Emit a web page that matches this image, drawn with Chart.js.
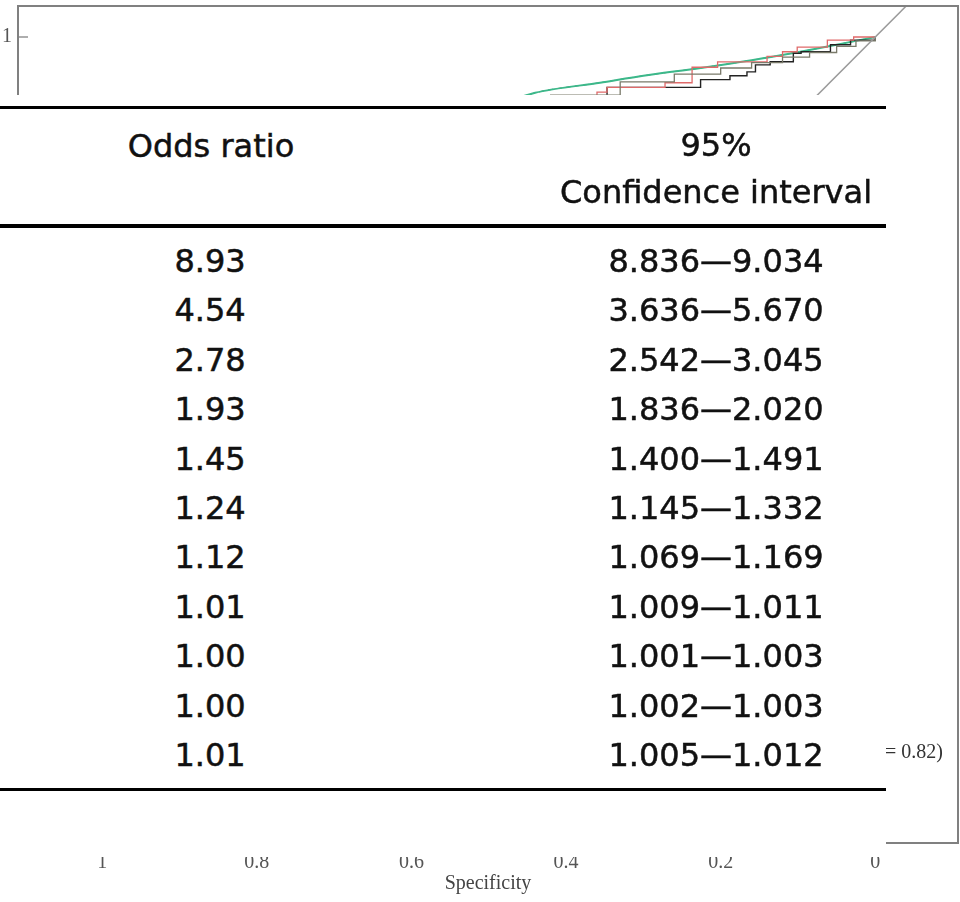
<!DOCTYPE html>
<html>
<head>
<meta charset="utf-8">
<script src="https://cdn.jsdelivr.net/npm/chart.js@4.4.1/dist/chart.umd.min.js"></script>
<style>
  html, body { margin:0; padding:0; background:#fff; }
  #wrap { position:relative; width:960px; height:902px; overflow:hidden; }
  #roc { position:absolute; left:0; top:0; }
  #tbl { position:absolute; left:0; top:95px; width:886px; height:762px; background:#fff; }
  .rule { position:absolute; left:0; width:886px; background:#000; }
  .cell { position:absolute; font-family:'DejaVu Sans', sans-serif; font-size:32px; line-height:49px; height:49px; color:#111; text-align:center; white-space:nowrap; -webkit-text-stroke:0.5px #111; }
</style>
</head>
<body>
<div id="wrap">
  <canvas id="roc" width="960" height="902"></canvas>
  <div id="tbl"></div>
</div>
<script>
// axis ticks
const xTicks = [1, 0.8, 0.6, 0.4, 0.2, 0];
const yTicks = [0, 0.2, 0.4, 0.6, 0.8, 1];

// reference diagonal (abline)
const diagSpec = [1.2, -0.2];
const diagSens = [-0.2, 1.2];

// ROC curves (specificity, sensitivity)
const redSpec = [1, 0.98, 0.92, 0.85, 0.76, 0.66, 0.56, 0.47, 0.40, 0.36, 0.347, 0.272, 0.237, 0.204, 0.14, 0.12, 0.101, 0.062, 0.028, 0];
const redSens = [0, 0.22, 0.42, 0.58, 0.70, 0.80, 0.87, 0.905, 0.92, 0.929, 0.935, 0.941, 0.961, 0.968, 0.975, 0.981, 0.987, 0.996, 1.0, 1.0];

const blackSpec = [1, 0.97, 0.9, 0.82, 0.72, 0.62, 0.52, 0.44, 0.38, 0.347, 0.226, 0.188, 0.166, 0.155, 0.136, 0.106, 0.096, 0.058, 0.032, 0];
const blackSens = [0, 0.18, 0.36, 0.52, 0.66, 0.77, 0.85, 0.89, 0.915, 0.935, 0.945, 0.950, 0.955, 0.964, 0.968, 0.979, 0.981, 0.990, 0.996, 1.0];

const graySpec = [1, 0.96, 0.9, 0.8, 0.7, 0.6, 0.5, 0.42, 0.33, 0.26, 0.2, 0.16, 0.12, 0.085, 0.05, 0.025, 0];
const graySens = [0, 0.3, 0.47, 0.63, 0.75, 0.84, 0.9, 0.925, 0.942, 0.952, 0.96, 0.967, 0.974, 0.98, 0.988, 0.995, 1];

const greenSpec = [1, 0.95, 0.9, 0.8, 0.7, 0.6, 0.5, 0.44, 0.356, 0.3, 0.226, 0.16, 0.097, 0.05, 0];
const greenSens = [0, 0.36, 0.5, 0.66, 0.77, 0.85, 0.905, 0.928, 0.941, 0.95, 0.96, 0.97, 0.981, 0.99, 1];

const legendText = '(AUC = 0.82)';

// table over the plot
const headers = ['Odds ratio', '95%', 'Confidence interval'];
const oddsRatio = ['8.93', '4.54', '2.78', '1.93', '1.45', '1.24', '1.12', '1.01', '1.00', '1.00', '1.01'];
const ciLow  = ['8.836', '3.636', '2.542', '1.836', '1.400', '1.145', '1.069', '1.009', '1.001', '1.002', '1.005'];
const ciHigh = ['9.034', '5.670', '3.045', '2.020', '1.491', '1.332', '1.169', '1.011', '1.003', '1.003', '1.012'];

function pts(xs, ys){ return xs.map((x,i)=>({x:x, y:ys[i]})); }

const serif = "'Liberation Serif', 'Times New Roman', serif";

const boxPlugin = {
  id:'box',
  afterDatasetsDraw(chart){
    const {ctx, chartArea:a, scales} = chart;
    ctx.save();
    // inward tick marks
    ctx.strokeStyle = '#777';
    ctx.lineWidth = 1.2;
    yTicks.forEach(v=>{
      const py = scales.y.getPixelForValue(v);
      ctx.beginPath(); ctx.moveTo(a.left, py); ctx.lineTo(a.left+10, py); ctx.stroke();
    });
    xTicks.forEach(v=>{
      const px = scales.x.getPixelForValue(v);
      ctx.beginPath(); ctx.moveTo(px, a.bottom); ctx.lineTo(px, a.bottom-10); ctx.stroke();
    });
    // legend text
    ctx.fillStyle = '#333';
    ctx.font = '20px ' + serif;
    ctx.textAlign = 'right';
    ctx.textBaseline = 'middle';
    ctx.fillText(legendText, 943, 753);
    // plot box
    ctx.strokeStyle = '#808080';
    ctx.lineWidth = 2;
    ctx.strokeRect(a.left, a.top, a.right-a.left, a.bottom-a.top);
    ctx.restore();
  }
};

function noPad(s){
  s.paddingTop = 0; s.paddingBottom = 0; s.paddingLeft = 0; s.paddingRight = 0;
}

new Chart(document.getElementById('roc'), {
  type:'scatter',
  data:{
    datasets:[
      {data:pts(diagSpec, diagSens), showLine:true, borderColor:'#9a9a9a', borderWidth:1.5, pointRadius:0},
      {data:pts(graySpec, graySens), showLine:true, stepped:'before', borderColor:'#7a7a6a', borderWidth:1.3, pointRadius:0},
      {data:pts(redSpec, redSens), showLine:true, stepped:'before', borderColor:'#e06a6a', borderWidth:1.3, pointRadius:0},
      {data:pts(blackSpec, blackSens), showLine:true, stepped:'before', borderColor:'#222', borderWidth:1.4, pointRadius:0},
      {data:pts(greenSpec, greenSens), showLine:true, tension:0.3, borderColor:'#3cb88a', borderWidth:2, pointRadius:0},
      {data:pts(greenSpec, greenSens), showLine:true, tension:0.3, borderColor:'#2e5a44', borderWidth:1, borderDash:[5,4], pointRadius:0}
    ]
  },
  options:{
    responsive:false,
    animation:false,
    devicePixelRatio:1,
    layout:{padding:{top:6, right:2, left:0, bottom:0}},
    plugins:{legend:{display:false}, tooltip:{enabled:false}},
    scales:{
      x:{
        type:'linear', reverse:true, min:-0.107, max:1.109,
        grid:{display:false, drawTicks:false},
        border:{display:false},
        afterBuildTicks:s=>{ s.ticks = xTicks.map(v=>({value:v})); },
        afterFit:s=>{ s.height = 59; noPad(s); },
        ticks:{padding:8, color:'#555', font:{family:serif, size:20}, maxRotation:0, autoSkip:false,
               callback:v=>String(v)},
        title:{display:true, text:'Specificity', color:'#444', font:{family:serif, size:20}, padding:{top:0, bottom:6}}
      },
      y:{
        type:'linear', min:-0.04, max:1.04,
        grid:{display:false, drawTicks:false},
        border:{display:false},
        afterBuildTicks:s=>{ s.ticks = yTicks.map(v=>({value:v})); },
        afterFit:s=>{ s.width = 18; noPad(s); },
        ticks:{padding:6, color:'#555', font:{family:serif, size:20}, callback:v=>String(v)}
      }
    }
  },
  plugins:[boxPlugin]
});

// build the table overlay
const tbl = document.getElementById('tbl');
const top0 = 95;
function rule(y, h){
  const d = document.createElement('div');
  d.className = 'rule';
  d.style.top = (y - top0) + 'px';
  d.style.height = h + 'px';
  tbl.appendChild(d);
}
function cell(text, cx, lineTop){
  const d = document.createElement('div');
  d.className = 'cell';
  d.style.left = (cx - 250) + 'px';
  d.style.width = '500px';
  d.style.top = (lineTop - top0) + 'px';
  d.textContent = text;
  tbl.appendChild(d);
}
rule(106, 3);
rule(224, 4);
rule(788, 3);
cell(headers[0], 211, 122);
cell(headers[1], 716, 121);
cell(headers[2], 716, 168);
oddsRatio.forEach((v,i)=>{
  const t = 237 + 49.4*i;
  cell(v, 210, t);
  cell(ciLow[i] + '\u2014' + ciHigh[i], 716, t);
});
</script>
</body>
</html>
